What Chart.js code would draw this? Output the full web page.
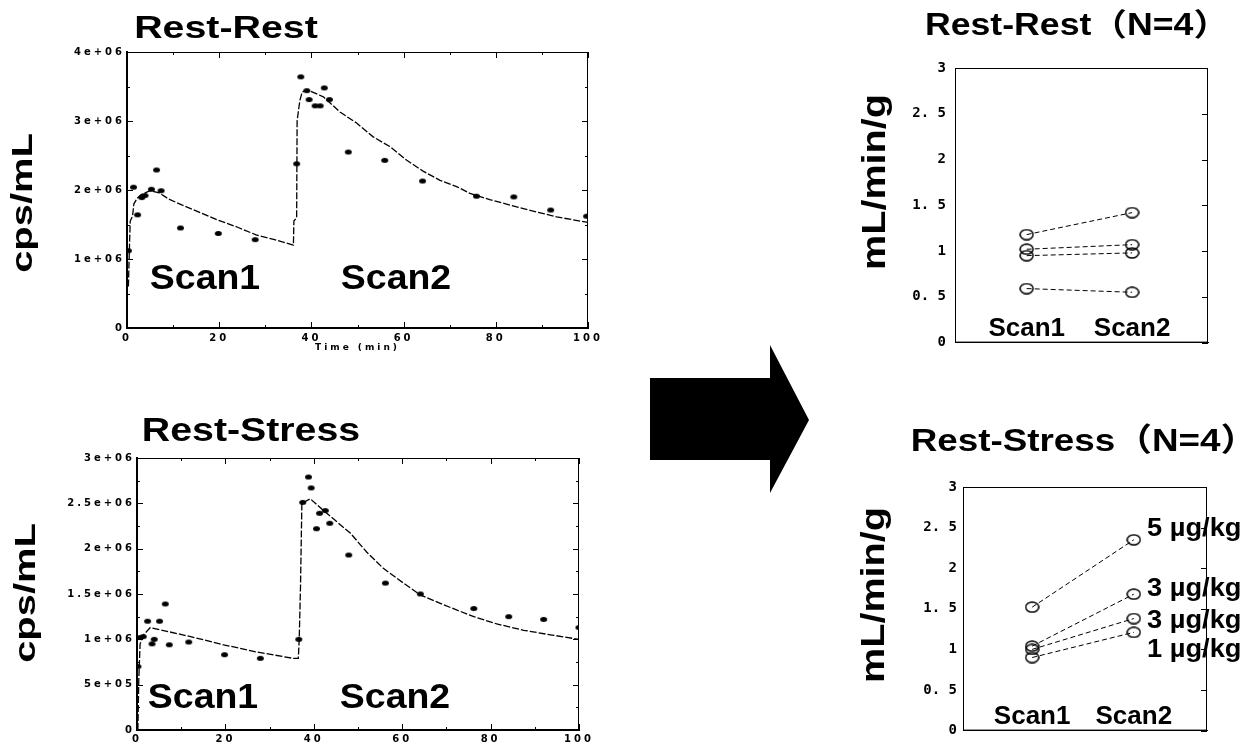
<!DOCTYPE html>
<html>
<head>
<meta charset="utf-8">
<script src="https://cdn.jsdelivr.net/npm/chart.js@4.4.0/dist/chart.umd.min.js"></script>
<style>
  body { margin: 0; background: #fff; width: 1253px; height: 745px; position: relative; overflow: hidden;
         font-family: "Liberation Sans", Arial, "Noto Sans CJK JP", sans-serif; }
  canvas { position: absolute; }
  .t { position: absolute; font-weight: bold; white-space: nowrap; line-height: 1; color: #000; }
  svg { position: absolute; left: 0; top: 0; }
</style>
</head>
<body>
<svg width="1253" height="745"><polygon points="650,378 770,378 770,345 809,420 770,493 770,460 650,460" fill="#000"/></svg>
<script>
// time-activity curves (counts in units of 1e6 cps/mL)
const rrTime = [0.3, 1.4, 2.3, 3.2, 3.9, 5.3, 6.4, 7.4, 11.6, 19.8, 27.8, 36.8, 37.7, 39.0, 39.5, 40.8, 41.9, 42.8, 43.9, 48.0, 55.9, 64.1, 75.8, 83.9, 91.9, 99.7];
const rrCounts = [1.12, 2.04, 1.64, 1.89, 1.92, 2.01, 2.29, 1.99, 1.45, 1.37, 1.28, 2.38, 3.64, 3.44, 3.31, 3.22, 3.22, 3.48, 3.31, 2.55, 2.43, 2.13, 1.91, 1.90, 1.71, 1.62];
const rrFitTime = [0.3, 0.5, 0.7, 1.2, 1.5, 2.2, 3, 5, 7, 9, 12, 16, 19.5, 24, 28, 32, 36.1, 36.2, 36.8, 36.9, 37.5, 38, 39.2, 42.6, 46.2, 49.8, 53.4, 57, 60.7, 64.3, 67.9, 71.5, 74.4, 78.7, 86, 93.2, 100];
const rrFitCounts = [0.6, 1.1, 1.55, 1.62, 1.8, 1.88, 1.93, 1.99, 1.96, 1.87, 1.78, 1.67, 1.57, 1.46, 1.35, 1.28, 1.2, 1.55, 1.6, 3.0, 3.3, 3.42, 3.45, 3.35, 3.13, 2.97, 2.77, 2.63, 2.43, 2.27, 2.14, 2.05, 1.95, 1.86, 1.73, 1.61, 1.53];

const rsTime = [0.2, 0.7, 1.4, 2.4, 3.4, 3.9, 5.1, 6.4, 7.3, 11.7, 19.8, 27.9, 36.6, 37.5, 38.8, 39.4, 40.6, 41.3, 42.6, 43.6, 47.9, 56.2, 64.1, 76.2, 84.1, 92.0, 100];
const rsCounts = [0.70, 1.02, 1.03, 1.20, 0.95, 1.00, 1.20, 1.39, 0.94, 0.97, 0.83, 0.79, 1.00, 2.51, 2.79, 2.67, 2.22, 2.39, 2.42, 2.28, 1.93, 1.62, 1.50, 1.34, 1.25, 1.22, 1.13];
const rsFitTime = [0.2, 0.4, 0.7, 1.5, 3, 12.1, 19.6, 27.1, 35.4, 36.5, 36.7, 37.0, 37.3, 39.2, 42.2, 48.3, 52, 55.8, 60.3, 64.1, 69.4, 76.2, 81.4, 87.5, 93.5, 100];
const rsFitCounts = [0, 0.55, 0.95, 1.05, 1.13, 1.03, 0.94, 0.86, 0.79, 0.79, 1.0, 1.6, 2.5, 2.55, 2.42, 2.17, 1.96, 1.78, 1.62, 1.49, 1.38, 1.25, 1.17, 1.10, 1.05, 1.0];

// flow values (mL/min/g)
const scanLabels = ['Scan1', 'Scan2'];
const rrScan1 = [1.18, 1.02, 0.95, 0.59];
const rrScan2 = [1.42, 1.07, 0.98, 0.55];
const rsScan1 = [1.52, 1.04, 1.00, 0.90];
const rsScan2 = [2.35, 1.68, 1.38, 1.21];
const doseLabels = ['5 µg/kg', '3 µg/kg', '3 µg/kg', '1 µg/kg'];
const flowTicks = [0, 0.5, 1, 1.5, 2, 2.5, 3];

function sciLabel(v) {
  if (v === 0) return '0';
  const n = v * 1e6;
  const e = Math.floor(Math.log10(n) + 1e-9);
  const m = +(n / Math.pow(10, e)).toFixed(2);
  return m + 'e+' + String(e).padStart(2, '0');
}
function flowLabel(v) {
  return Number.isInteger(v) ? String(v) : v.toFixed(1).replace('.', '. ');
}

function makeDot(w, h, filled) {
  const c = document.createElement('canvas');
  c.width = w; c.height = h;
  const g = c.getContext('2d');
  g.beginPath();
  g.ellipse(w / 2, h / 2, w / 2 - 1, h / 2 - 1, 0, 0, Math.PI * 2);
  if (filled) { g.fillStyle = '#000'; g.fill(); }
  else { g.strokeStyle = '#000'; g.lineWidth = 1.5; g.stroke(); }
  return c;
}
const dot = makeDot(9, 7, true);
const ring = makeDot(15, 12, false);

// box around plot area, inward tick marks, category labels inside the box
const framePlugin = {
  id: 'frame',
  beforeDraw(chart, args, opts) {
    if (opts.spacing) chart.ctx.letterSpacing = opts.spacing;
  },
  afterDraw(chart, args, opts) {
    const { ctx, chartArea: a, scales } = chart;
    ctx.save();
    ctx.strokeStyle = '#000';
    ctx.lineWidth = 1;
    ctx.strokeRect(a.left + 0.5, a.top + 0.5, a.right - a.left - 1, a.bottom - a.top - 1);
    ctx.beginPath();
    (opts.sides || []).forEach(side => {
      const horiz = side === 'top' || side === 'bottom';
      const sc = horiz ? scales.x : scales.y;
      const vals = sc.ticks.map(t => t.value);
      const marks = vals.map(v => [v, 6]);
      if (opts.minor) {
        for (let i = 0; i < vals.length - 1; i++) marks.push([(vals[i] + vals[i + 1]) / 2, 3]);
      }
      marks.forEach(([v, len]) => {
        const p = Math.round(sc.getPixelForValue(v)) + 0.5;
        if (side === 'top') { ctx.moveTo(p, a.top); ctx.lineTo(p, a.top + len); }
        if (side === 'bottom') { ctx.moveTo(p, a.bottom); ctx.lineTo(p, a.bottom - len); }
        if (side === 'left') { ctx.moveTo(a.left, p); ctx.lineTo(a.left + len, p); }
        if (side === 'right') { ctx.moveTo(a.right, p); ctx.lineTo(a.right - len, p); }
      });
    });
    ctx.stroke();
    if (opts.xLabels) {
      ctx.fillStyle = '#000';
      ctx.font = 'bold 26px "Liberation Sans", Arial, sans-serif';
      ctx.textAlign = 'center';
      ctx.textBaseline = 'alphabetic';
      opts.xLabels.forEach((l, i) => ctx.fillText(l, scales.x.getPixelForValue(i), a.bottom - 6.5));
    }
    ctx.restore();
  }
};

function addCanvas(left, top, w, h) {
  const c = document.createElement('canvas');
  c.width = w; c.height = h;
  c.style.left = left + 'px'; c.style.top = top + 'px';
  document.body.appendChild(c);
  return c;
}

const smallFont = { family: 'DejaVu Sans', size: 10, weight: 'bold' };

function curveChart(canvas, pad, yWidth, xHeight, yMax, yStep, t, c, ft, fc, xTitle, xPad) {
  return new Chart(canvas, {
    type: 'scatter',
    data: {
      datasets: [
        { data: ft.map((x, i) => ({ x, y: fc[i] })), showLine: true, borderColor: '#000', borderWidth: 1.3,
          borderDash: [7, 2], pointRadius: 0 },
        { data: t.map((x, i) => ({ x, y: c[i] })), pointStyle: dot, pointRadius: 4,
          backgroundColor: '#000', borderColor: '#000' }
      ]
    },
    options: {
      responsive: false, animation: false, devicePixelRatio: 1,
      layout: { padding: pad },
      plugins: { legend: { display: false }, tooltip: { enabled: false },
                 frame: { sides: ['top', 'right', 'left', 'bottom'], minor: true, spacing: '3px' } },
      scales: {
        x: {
          min: 0, max: 100,
          ticks: { stepSize: 20, color: '#000', font: smallFont, padding: xPad, maxRotation: 0 },
          grid: { drawOnChartArea: false, drawTicks: false },
          border: { color: '#000', width: 1 },
          title: { display: !!xTitle, text: xTitle, color: '#000', font: { family: 'DejaVu Sans', size: 9, weight: 'bold' },
                   padding: { top: 0, bottom: 7 } },
          afterFit: s => { s.height = xHeight; }
        },
        y: {
          min: 0, max: yMax,
          ticks: { stepSize: yStep, color: '#000', font: smallFont, padding: 2, callback: v => sciLabel(v) },
          grid: { drawOnChartArea: false, drawTicks: false },
          border: { color: '#000', width: 2 },
          afterFit: s => { s.width = yWidth; }
        }
      }
    },
    plugins: [framePlugin]
  });
}

function flowChart(canvas, pad, yWidth, xHeight, s1, s2, yPad) {
  return new Chart(canvas, {
    type: 'scatter',
    data: {
      datasets: s1.map((v, i) => ({
        data: [{ x: 0, y: v }, { x: 1, y: s2[i] }], showLine: true,
        borderColor: '#000', borderWidth: 1, borderDash: [5, 3],
        pointStyle: ring, pointRadius: 6
      }))
    },
    options: {
      responsive: false, animation: false, devicePixelRatio: 1,
      layout: { padding: pad },
      plugins: { legend: { display: false }, tooltip: { enabled: false },
                 frame: { sides: ['right'], xLabels: scanLabels } },
      scales: {
        x: {
          min: -0.68, max: 1.72,
          ticks: { display: false },
          grid: { drawOnChartArea: false, drawTicks: false },
          border: { color: '#000', width: 1 },
          afterFit: s => { s.height = xHeight; }
        },
        y: {
          min: 0, max: 3,
          afterBuildTicks: s => { s.ticks = flowTicks.map(v => ({ value: v })); },
          ticks: { color: '#000', font: { family: 'DejaVu Sans Mono', size: 14, weight: 'bold' }, padding: yPad,
                   callback: v => flowLabel(v) },
          grid: { drawOnChartArea: false, drawTicks: false },
          border: { color: '#000', width: 1 },
          afterFit: s => { s.width = yWidth; }
        }
      }
    },
    plugins: [framePlugin]
  });
}

curveChart(addCanvas(0, 0, 620, 360), { left: 0, top: 52, right: 32, bottom: 0 }, 127, 32, 4, 1,
  rrTime, rrCounts, rrFitTime, rrFitCounts, 'Time (min)', 4);
curveChart(addCanvas(0, 380, 620, 365), { left: 0, top: 78, right: 41, bottom: 0 }, 137, 15, 3, 0.5,
  rsTime, rsCounts, rsFitTime, rsFitCounts, '', 3);
flowChart(addCanvas(820, 0, 433, 360), { left: 0, top: 68, right: 45, bottom: 0 }, 135, 17, rrScan1, rrScan2, 9);
flowChart(addCanvas(820, 400, 433, 345), { left: 0, top: 87, right: 46, bottom: 0 }, 143, 8, rsScan1, rsScan2, 6);

// text overlays
function addText(txt, x, y, size, sx, opt = {}) {
  const d = document.createElement('div');
  d.className = 't';
  d.textContent = txt;
  d.style.fontSize = size + 'px';
  d.style.left = x + 'px';
  d.style.top = y + 'px';
  if (opt.align === 'left') {
    d.style.transformOrigin = 'left center';
    d.style.transform = `translate(0,-50%) scaleX(${sx})`;
  } else {
    d.style.transform = `translate(-50%,-50%) rotate(${opt.rot || 0}deg) scaleX(${sx})`;
  }
  document.body.appendChild(d);
}

addText('Rest-Rest', 226, 26.5, 32, 1.23);
addText('Rest-Stress', 251, 429, 33, 1.19);
addText('cps/mL', 22.4, 203, 30, 1.33, { rot: -90 });
addText('cps/mL', 25.4, 593, 30, 1.33, { rot: -90 });
addText(scanLabels[0], 205, 275.5, 35, 1.07);
addText(scanLabels[1], 395.5, 275.5, 35, 1.07);
addText(scanLabels[0], 203, 695, 35, 1.07);
addText(scanLabels[1], 394.5, 695, 35, 1.07);
addText('Rest-Rest（N=4）', 1077, 24, 31, 1.15);
addText('Rest-Stress（N=4）', 1084, 440, 32, 1.15);
addText('mL/min/g', 872.5, 181.5, 33, 1.2, { rot: -90 });
addText('mL/min/g', 872, 595, 33, 1.2, { rot: -90 });
const doseY = [527, 586.5, 618.5, 648];
doseLabels.forEach((l, i) => addText(l, 1147, doseY[i], 25, 1.09, { align: 'left' }));
</script>
</body>
</html>
